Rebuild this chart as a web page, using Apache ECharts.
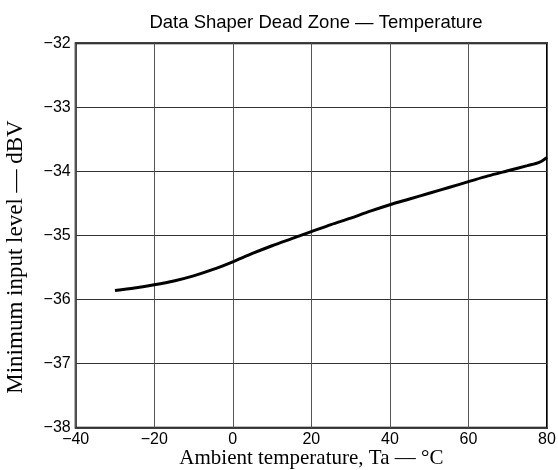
<!DOCTYPE html>
<html><head><meta charset="utf-8">
<script src="https://cdn.jsdelivr.net/npm/echarts@6/dist/echarts.min.js"></script>
<style>html,body{margin:0;padding:0;background:#fff}#c{width:558px;height:470px}</style>
</head><body><div id="c"></div>
<script>
var titleText = 'Data Shaper Dead Zone \u2014 Temperature';
var xName = 'Ambient temperature, Ta \u2014 \u00B0C';
var yName = 'Minimum input level \u2014 dBV';
var temps = [-30, -25, -20, -15, -10, -5, 0, 5, 10, 15, 20, 25, 30, 35, 40, 45, 50, 55, 60, 65, 70, 75, 78, 80];
var levels = [-35.86, -35.82, -35.77, -35.71, -35.63, -35.53, -35.41, -35.28, -35.16, -35.05, -34.94, -34.83, -34.73, -34.62, -34.52, -34.43, -34.34, -34.25, -34.16, -34.07, -33.99, -33.91, -33.86, -33.78];
var xTicks = [-40, 80, 20];
var yTicks = [-38, -32, 1];
var fmt = function (v) { return String(v).replace('-', '\u2212'); };
var chart = echarts.init(document.getElementById('c'), null, {renderer: 'canvas'});
chart.setOption({
  animation: false,
  title: {text: titleText, left: 311, top: 8, textAlign: 'center',
    textStyle: {fontFamily: 'Liberation Sans', fontSize: 18.5, fontWeight: 'normal', color: '#000'}},
  grid: {left: 75.7, right: 11, top: 43.3, bottom: 42.3, show: true, borderColor: '#000', borderWidth: 2,
    containLabel: false, outerBoundsMode: 'none'},
  graphic: [{type: 'text', x: 16, y: 257, rotation: Math.PI / 2,
    style: {text: yName, font: '23px "Liberation Serif"', fill: '#000', align: 'center', verticalAlign: 'middle'}}],
  xAxis: {type: 'value', min: xTicks[0], max: xTicks[1], interval: xTicks[2],
    name: xName, nameLocation: 'middle', nameGap: 20, nameMoveOverlap: false,
    nameTextStyle: {fontFamily: 'Liberation Serif', fontSize: 21, color: '#000'},
    axisLine: {show: false}, axisTick: {show: false},
    axisLabel: {formatter: fmt, fontFamily: 'Liberation Sans', fontSize: 16, color: '#000', margin: 4},
    splitLine: {lineStyle: {color: '#555', width: 1}}},
  yAxis: {type: 'value', min: yTicks[0], max: yTicks[1], interval: yTicks[2],
    axisLine: {show: false}, axisTick: {show: false},
    axisLabel: {formatter: fmt, fontFamily: 'Liberation Sans', fontSize: 16, color: '#000', margin: 5},
    splitLine: {lineStyle: {color: '#333', width: 1}}},
  series: [{type: 'line', data: temps.map(function (t, i) { return [t, levels[i]]; }),
    smooth: 0.3, symbol: 'none', lineStyle: {color: '#000', width: 3}}]
});
</script></body></html>
